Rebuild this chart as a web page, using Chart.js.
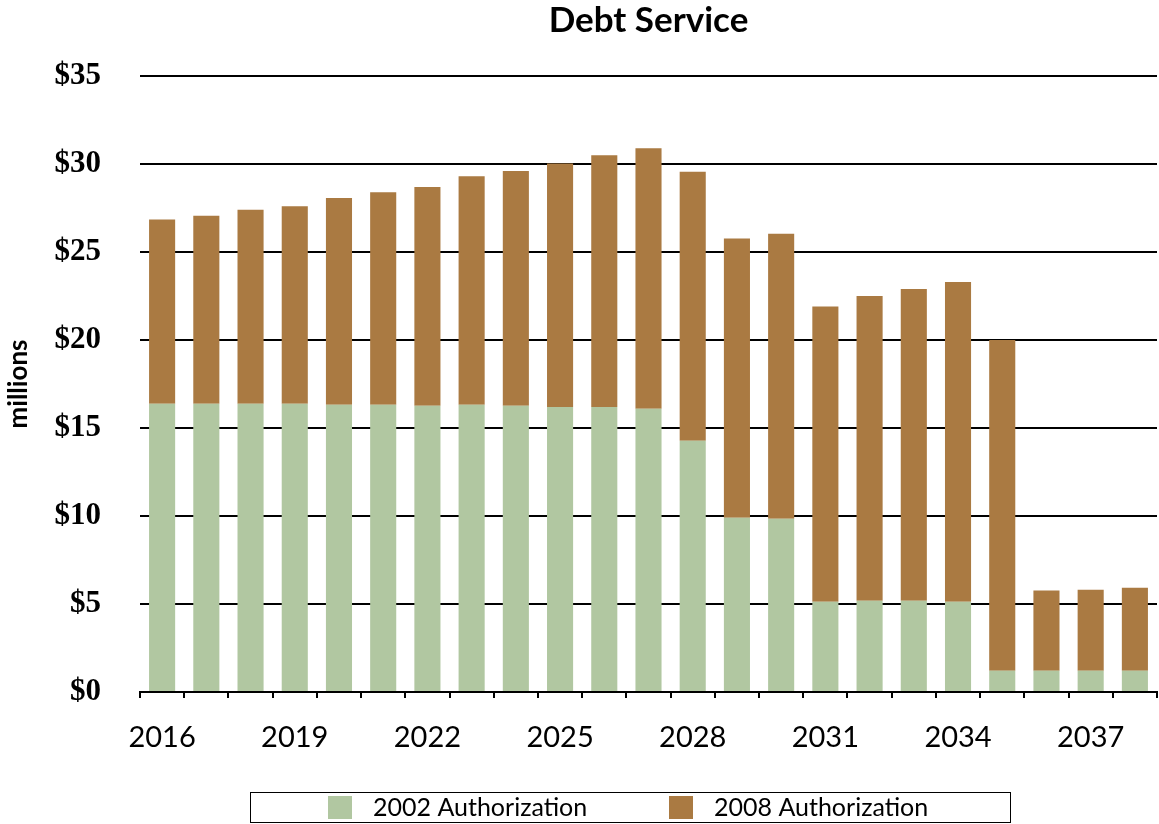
<!DOCTYPE html>
<html>
<head>
<meta charset="utf-8">
<title>Debt Service</title>
<script src="https://cdn.jsdelivr.net/npm/chart.js@4.4.1/dist/chart.umd.min.js"></script>
<style>
    html, body { margin: 0; padding: 0; background: #fff; }
    #wrap { width: 1159px; height: 824px; }
</style>
</head>
<body>
<div id="wrap"><canvas id="debtChart" width="1159" height="824"></canvas></div>
<script>
// Annual debt service, $ millions
const years = ['2016', '2017', '2018', '2019', '2020', '2021', '2022', '2023',
    '2024', '2025', '2026', '2027', '2028', '2029', '2030', '2031', '2032',
    '2033', '2034', '2035', '2036', '2037', '2038'];

const auth2002 = [16.38, 16.38, 16.38, 16.38, 16.32, 16.32, 16.27, 16.32,
    16.27, 16.2, 16.2, 16.1, 14.28, 9.9, 9.85, 5.13, 5.19, 5.19, 5.13,
    1.21, 1.21, 1.21, 1.21];

const totals = [26.84, 27.06, 27.4, 27.6, 28.07, 28.4, 28.7, 29.3, 29.6,
    30.03, 30.5, 30.9, 29.56, 25.76, 26.04, 21.9, 22.5, 22.9, 23.3, 20.0,
    5.76, 5.81, 5.92];

// 2008 portion is whatever sits on top of the 2002 portion
const auth2008 = totals.map((t, i) => +(t - auth2002[i]).toFixed(2));

const yTicks = [0, 5, 10, 15, 20, 25, 30, 35];

const GREEN = '#B1C7A1';
const BROWN = '#AA7A42';

// boxed legend along the bottom
const boxLegend = {
    id: 'boxLegend',
    afterDraw(chart) {
        const ctx = chart.ctx;
        ctx.save();
        ctx.strokeStyle = '#000';
        ctx.lineWidth = 1;
        ctx.strokeRect(250.5, 792.5, 760, 30);

        const items = chart.data.datasets.map(ds => ({ label: ds.label, color: ds.backgroundColor }));
        const swatchX = [328, 669];
        ctx.font = '25px Lato';
        ctx.textBaseline = 'middle';
        items.forEach((it, i) => {
            ctx.fillStyle = it.color;
            ctx.fillRect(swatchX[i], 796, 24, 23);
            ctx.fillStyle = '#000';
            ctx.fillText(it.label, swatchX[i] + 45, 808);
        });
        ctx.restore();
    }
};

new Chart(document.getElementById('debtChart'), {
    type: 'bar',
    data: {
        labels: years,
        datasets: [{
            label: '2002 Authorization',
            data: auth2002,
            backgroundColor: GREEN,
            borderWidth: 0
        }, {
            label: '2008 Authorization',
            data: auth2008,
            backgroundColor: BROWN,
            borderWidth: 0
        }]
    },
    options: {
        responsive: false,
        animation: false,
        layout: {
            padding: { left: 3, right: 2, top: 0, bottom: 42 }
        },
        datasets: {
            bar: { categoryPercentage: 1, barPercentage: 0.59 }
        },
        plugins: {
            legend: { display: false },
            tooltip: { enabled: false },
            title: {
                display: true,
                text: 'Debt Service',
                fullSize: false,
                color: '#000',
                font: { family: 'Lato', size: 35, weight: 'bold' },
                padding: { top: 0, bottom: 34 }
            }
        },
        scales: {
            x: {
                stacked: true,
                offset: true,
                grid: {
                    offset: true,
                    drawOnChartArea: false,
                    drawTicks: true,
                    tickLength: 6,
                    color: '#000',
                    lineWidth: 2
                },
                border: { display: true, color: '#000', width: 2 },
                ticks: {
                    autoSkip: false,
                    maxRotation: 0,
                    padding: 22,
                    color: '#000',
                    font: { family: 'Lato', size: 29 },
                    callback: (val, i) => (i % 3 === 0 ? years[i] : '')
                },
                afterFit: scale => { scale.height = 90; }
            },
            y: {
                stacked: true,
                min: 0,
                max: 35,
                afterBuildTicks: scale => {
                    scale.ticks = yTicks.map(v => ({ value: v }));
                },
                grid: {
                    drawTicks: false,
                    color: '#000',
                    lineWidth: 2
                },
                border: { display: false },
                ticks: {
                    padding: 39,
                    color: '#000',
                    font: { family: 'Liberation Serif', size: 31, weight: 'bold' },
                    callback: v => '$' + v
                },
                title: {
                    display: true,
                    text: 'millions',
                    color: '#000',
                    font: { family: 'Lato', size: 26, weight: 'bold' },
                    padding: 0
                },
                afterFit: scale => { scale.width = 137; }
            }
        }
    },
    plugins: [boxLegend]
});
</script>
</body>
</html>
